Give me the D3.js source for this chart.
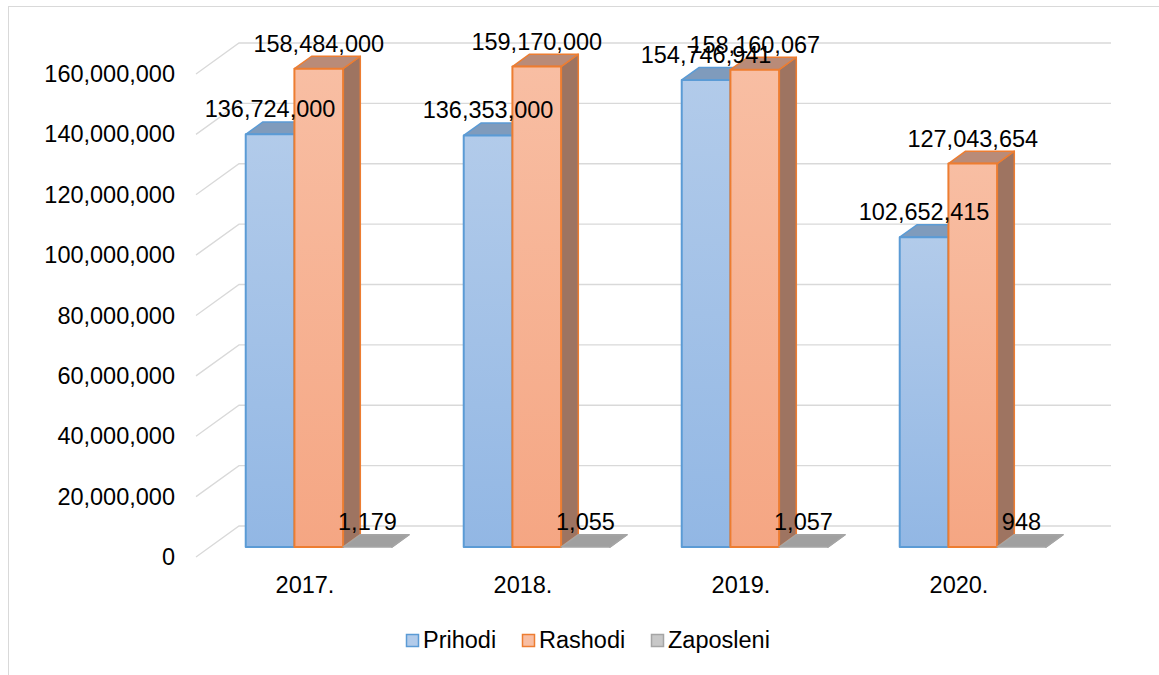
<!DOCTYPE html>
<html>
<head>
<meta charset="utf-8">
<script src="https://cdn.jsdelivr.net/npm/d3@7"></script>
<style>
  body { margin: 0; background: #fff; }
  text { font-family: "Liberation Sans", Arial, sans-serif; fill: #000; }
</style>
</head>
<body>
<div id="chart"></div>
<script>
// data
const categories = ['2017.', '2018.', '2019.', '2020.'];
const seriesNames = ['Prihodi', 'Rashodi', 'Zaposleni'];
const prihodi = [136724000, 136353000, 154746941, 102652415];
const rashodi = [158484000, 159170000, 158160067, 127043654];
const zaposleni = [1179, 1055, 1057, 948];
const yTicks = [0, 20000000, 40000000, 60000000, 80000000, 100000000, 120000000, 140000000, 160000000];

const width = 1159;
const height = 675;
const fontSize = 23.5;

// oblique 3d projection: full depth moves a point by (depthX, depthY)
const depthX = 43;
const depthY = -31;
const zFront = 0.32;
const zBack = 0.72;

const styles = [
  { top: '#b2cbea', bottom: '#92b7e4', stroke: '#5b9bd5', lid: '#7f9bbc', side: '#6f8db1' },
  { top: '#f8bea3', bottom: '#f5a683', stroke: '#ed7d31', lid: '#b98b78', side: '#9e7461' },
  { top: '#c8c8c8', bottom: '#b0b0b0', stroke: '#a5a5a5', lid: '#a0a0a0', side: '#8a8a8a' },
];

const svg = d3.select('#chart').append('svg')
  .attr('width', width)
  .attr('height', height);

const defs = svg.append('defs');
styles.forEach((s, i) => {
  const g = defs.append('linearGradient')
    .attr('id', 'grad' + i)
    .attr('x1', 0).attr('y1', 0).attr('x2', 0).attr('y2', 1);
  g.append('stop').attr('offset', '0%').attr('stop-color', s.top);
  g.append('stop').attr('offset', '100%').attr('stop-color', s.bottom);
});

// outer border
svg.append('rect')
  .attr('x', 8.5).attr('y', 6.5)
  .attr('width', width + 20).attr('height', height + 20)
  .attr('fill', 'none')
  .attr('stroke', '#d9d9d9');

const x0 = d3.scaleBand()
  .domain(categories)
  .range([196, 1068])
  .paddingInner(0.33)
  .paddingOuter(0.165);

const x1 = d3.scaleBand()
  .domain(seriesNames)
  .range([0, x0.bandwidth()]);

const y = d3.scaleLinear()
  .domain([0, 160000000])
  .range([557, 74]);

// project (x at depth 0, value, depth) to screen
const proj = (px, v, z) => [px + z * depthX, y(v) + z * depthY];

// gridlines: side wall diagonal + back wall
const grid = svg.append('g');
yTicks.forEach(t => {
  const [ax, ay] = proj(x0.range()[0], t, 0);
  const [bx, by] = proj(x0.range()[0], t, 1);
  const [cx, cy] = proj(x0.range()[1], t, 1);
  grid.append('path')
    .attr('d', `M${ax},${ay}L${bx},${by}L${cx},${cy}`)
    .attr('fill', 'none')
    .attr('stroke', '#d9d9d9')
    .attr('stroke-width', 1.3);
});

// y axis labels
const fmt = d3.format(',');
const yAxis = svg.append('g')
  .attr('transform', 'translate(175,0)')
  .call(d3.axisLeft(y).tickValues(yTicks).tickSize(0).tickPadding(0).tickFormat(fmt));
yAxis.select('.domain').remove();
yAxis.selectAll('text')
  .style('font-size', fontSize + 'px')
  .style('font-family', '"Liberation Sans", Arial, sans-serif')
  .attr('fill', '#000');

// x axis labels
const xAxis = svg.append('g')
  .attr('transform', 'translate(0,557)')
  .call(d3.axisBottom(x0).tickSize(0).tickPadding(0));
xAxis.select('.domain').remove();
xAxis.selectAll('text')
  .attr('dy', null)
  .attr('y', 36)
  .style('font-size', fontSize + 'px')
  .style('font-family', '"Liberation Sans", Arial, sans-serif')
  .attr('fill', '#000');

// bars
const allSeries = [prihodi, rashodi, zaposleni];
const bars = [];
categories.forEach((c, ci) => {
  allSeries.forEach((vals, si) => {
    bars.push({ cat: c, series: si, value: vals[ci] });
  });
});

const barG = svg.append('g');
const pts = arr => arr.map(p => p.join(',')).join(' ');

bars.forEach(d => {
  const s = styles[d.series];
  const xl = x0(d.cat) + x1(seriesNames[d.series]);
  const xr = xl + x1.bandwidth();
  const fl = proj(xl, 0, zFront), fr = proj(xr, 0, zFront);
  const tl = proj(xl, d.value, zFront), tr = proj(xr, d.value, zFront);
  const btl = proj(xl, d.value, zBack), btr = proj(xr, d.value, zBack);
  const bbr = proj(xr, 0, zBack);
  const g = barG.append('g');
  // right side
  g.append('polygon')
    .attr('points', pts([tr, btr, bbr, fr]))
    .attr('fill', s.side)
    .attr('stroke', s.stroke).attr('stroke-width', 1.5).attr('stroke-linejoin', 'round');
  // top
  g.append('polygon')
    .attr('points', pts([tl, btl, btr, tr]))
    .attr('fill', s.lid)
    .attr('stroke', s.stroke).attr('stroke-width', 1.5).attr('stroke-linejoin', 'round');
  // front
  if (fl[1] - tl[1] > 0.5) {
    g.append('polygon')
      .attr('points', pts([tl, tr, fr, fl]))
      .attr('fill', `url(#grad${d.series})`)
      .attr('stroke', s.stroke).attr('stroke-width', 2).attr('stroke-linejoin', 'round');
  }
  d.lx = (xl + xr) / 2 + zFront * depthX;
  d.ly = tl[1] - 25;
});

// data labels
svg.append('g').selectAll('text')
  .data(bars)
  .join('text')
  .attr('x', d => d.lx)
  .attr('y', d => d.ly)
  .attr('text-anchor', 'middle')
  .attr('dominant-baseline', 'central')
  .style('font-size', fontSize + 'px')
  .text(d => fmt(d.value));

// legend
const legendX = [406, 522, 651];
const legend = svg.append('g');
seriesNames.forEach((n, i) => {
  legend.append('rect')
    .attr('x', legendX[i] + 0.5).attr('y', 634.5)
    .attr('width', 12).attr('height', 12)
    .attr('fill', styles[i].top)
    .attr('stroke', styles[i].stroke)
    .attr('stroke-width', 1.5);
  legend.append('text')
    .attr('x', legendX[i] + 17)
    .attr('y', 648)
    .style('font-size', fontSize + 'px')
    .text(n);
});
</script>
</body>
</html>
